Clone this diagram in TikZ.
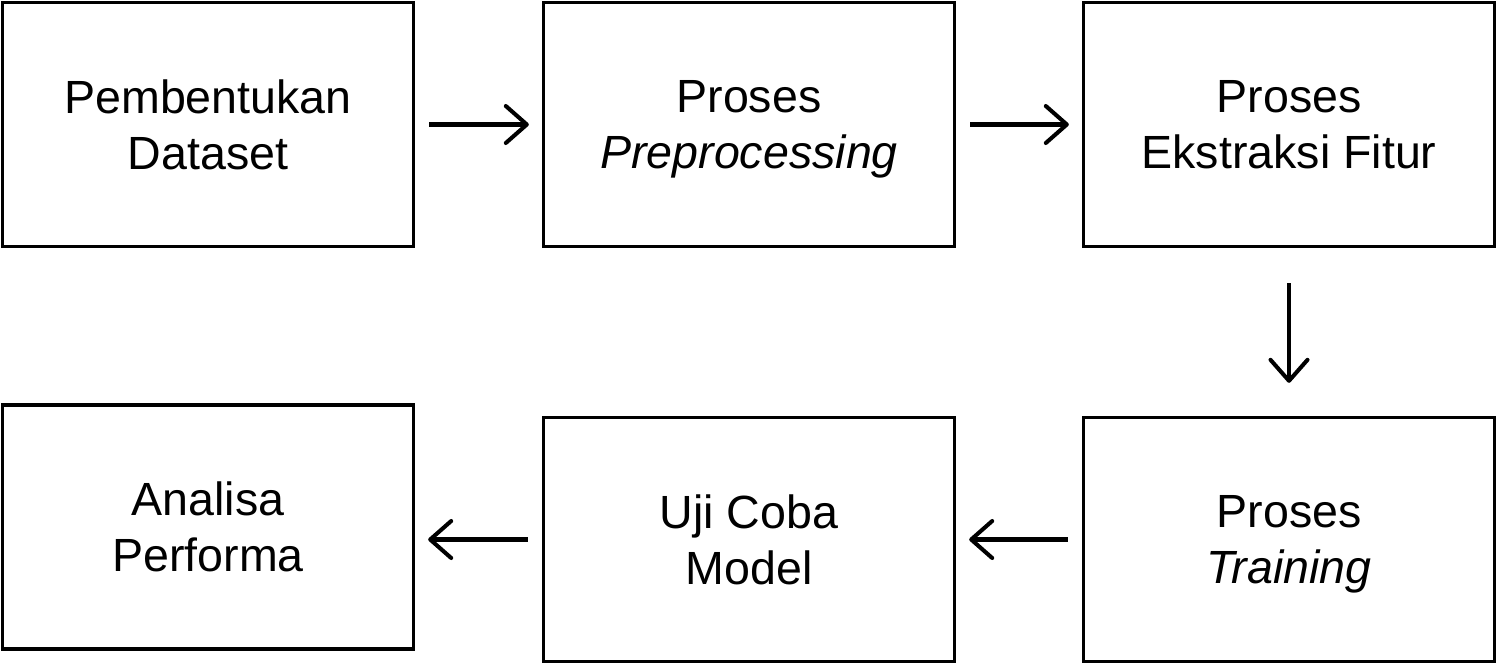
\documentclass[tikz,border=0pt]{standalone}
\usepackage{fontspec}
\setmainfont{Liberation Sans}
\usetikzlibrary{arrows.meta,positioning}

\begin{document}
\begin{tikzpicture}[>={Straight Barb[length=4.2mm,width=7.4mm,round]},
  font=\fontsize{26.5}{31.8}\selectfont]
\tikzset{
  tahap/.style={draw, line width=1.9pt, minimum width=8.22cm,
    minimum height=4.88cm, align=center, inner sep=0pt, text depth=0pt},
  panah/.style={->, line width=2.3pt, shorten <=0.28cm, shorten >=0.26cm}
}
\useasboundingbox (0,0) rectangle (29.96,-13.30);
% --- Top row ---
\node[tahap] (dataset) at (4.16,-2.49) {Pembentukan\\Dataset};
\node[tahap] (prepro) at (14.98,-2.49) {Proses\\\textit{Preprocessing}};
\node[tahap] (fitur) at (25.78,-2.49) {Proses\\Ekstraksi Fitur};
% --- Bottom row ---
\node[tahap] (analisa) at (4.16,-10.54) {Analisa\\Performa};
\node[tahap] (ujicoba) at (14.98,-10.79) {Uji Coba\\Model};
\node[tahap] (training) at (25.78,-10.79) {Proses\\\textit{Training}};
% Connectors
\draw[panah] (dataset) -- (prepro);
\draw[panah] (prepro) -- (fitur);
\draw[panah, shorten <=0.7cm, shorten >=0.66cm] (fitur) -- (training);
\draw[panah] (training) -- (ujicoba);
\draw[panah] (ujicoba.west) -- (analisa.east |- ujicoba.west);
\end{tikzpicture}
\end{document}
